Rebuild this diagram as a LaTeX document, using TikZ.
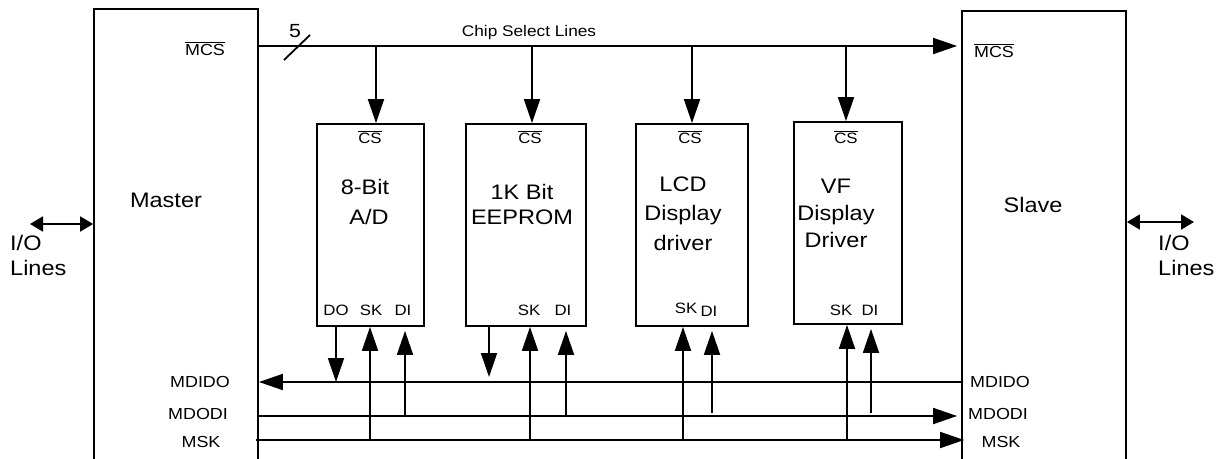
\documentclass[tikz,border=0pt]{standalone}
\usepackage{fontspec}
\setmainfont{Liberation Sans}[FakeStretch=1.12]
\usetikzlibrary{arrows.meta}
\newcommand{\ovl}[1]{$\overline{\mbox{#1}}$}

\begin{document}
\begin{tikzpicture}[x=1pt,y=-1pt,line cap=butt,
    wire/.style={line width=1.8pt},
    sig/.style={wire,-{Triangle[length=24pt,width=16pt]}},
    io/.style={wire,{Triangle[length=13pt,width=15pt]}-{Triangle[length=13pt,width=15pt]}},
    blk/.style={draw,line width=1.8pt,inner sep=0pt},
    pin/.style={font=\fontsize{15}{18}\selectfont,anchor=base,inner sep=0pt},
    bus/.style={font=\fontsize{16}{19}\selectfont,anchor=base,inner sep=0pt},
    big/.style={font=\fontsize{21}{29.5}\selectfont,align=center,anchor=base,inner sep=0pt}]
  \useasboundingbox (0,0) rectangle (1222,458);
  \clip (0,0) rectangle (1222,458);
  % master and slave run off the bottom edge
  \node[blk,minimum width=164pt,minimum height=480pt,anchor=north] (master) at (176,8) {};
  \node[blk,minimum width=164pt,minimum height=480pt,anchor=north] (slave) at (1044,10) {};
  \node[blk,minimum width=107pt,minimum height=202pt] (ad) at (370.5,225) {};
  \node[blk,minimum width=120pt,minimum height=202pt] (eep) at (526,225) {};
  \node[blk,minimum width=112pt,minimum height=202pt] (lcd) at (692,225) {};
  \node[blk,minimum width=108pt,minimum height=202pt] (vf) at (848,223) {};

  % base anchor sits on the last line
  \node[big] (mastertxt) at (166,207) {Master};
  \node[big] (slavetxt) at (1033,212) {Slave};
  \node[big] (adtxt) at (365,224) {8-Bit\\\hspace*{8pt}A/D};
  \node[big,font=\fontsize{21}{25}\selectfont] (eeptxt) at (522,224) {1K Bit\\EEPROM};
  \node[big] (lcdtxt) at (683,250) {LCD\\Display\\driver};
  \node[big,font=\fontsize{21}{27}\selectfont] (vftxt) at (836,247) {VF\\Display\\Driver};

  % bus rails
  \coordinate (mcs) at (0,46);
  \coordinate (mdido) at (0,382);
  \coordinate (mdodi) at (0,416);
  \coordinate (msk) at (0,440);

  \draw[sig,shorten >=4pt] (master.east |- mcs) -- (slave.west |- mcs);
  \draw[wire] (284,60) -- (310,35);
  \node[big,font=\fontsize{19}{22}\selectfont] (width) at (295,37) {5};
  \node[bus,font=\fontsize{15.4}{18}\selectfont] (csl) at (529,36) {Chip Select Lines};
  \node[bus] (mmcs) at (205,55) {\ovl{MCS}};
  \node[bus] (smcs) at (994,57) {\ovl{MCS}};
  \foreach \c/\x/\t in {ad/376/370,eep/532/530,lcd/692/690,vf/846/846} {
    \draw[sig] (\x,0 |- mcs) -- (\x,0 |- \c.north);
    \node[pin] (\c cs) at (\t,143) {\ovl{CS}};
  }

  \draw[sig] (slave.west |- mdido) -- (master.east |- mdido);
  \draw[sig,shorten >=4pt] (master.east |- mdodi) -- (slave.west |- mdodi);
  \draw[sig,shorten <=-3pt,shorten >=-3pt] (master.east |- msk) -- (slave.west |- msk);

  % chip pins
  \draw[sig] (336,0 |- ad.south) -- (336,0 |- mdido);
  \draw[sig,shorten >=5pt] (489,0 |- eep.south) -- (489,0 |- mdido);
  \foreach \c/\x in {ad/370,eep/530,lcd/683,vf/847}
    \draw[sig] (\x,0 |- msk) -- (\x,0 |- \c.south);
  \foreach \c/\x in {ad/405,eep/566}
    \draw[sig,shorten >=4pt] (\x,0 |- mdodi) -- (\x,0 |- \c.south);
  \foreach \c/\x in {lcd/712,vf/871}
    \draw[sig,shorten <=3pt,shorten >=4pt] (\x,0 |- mdodi) -- (\x,0 |- \c.south);

  \node[pin] (addo) at (336,315) {DO};
  \node[pin] (adsk) at (371,315) {SK};
  \node[pin] (addi) at (403,315) {DI};
  \node[pin] (eepsk) at (529,315) {SK};
  \node[pin] (eepdi) at (563,315) {DI};
  \node[pin] (lcdsk) at (686,313) {SK};
  \node[pin] (lcddi) at (709,316) {DI};
  \node[pin] (vfsk) at (841,315) {SK};
  \node[pin] (vfdi) at (870,315) {DI};

  \node[bus] (mdidoM) at (200,387) {MDIDO};
  \node[bus] (mdodiM) at (198,419) {MDODI};
  \node[bus] (mskM) at (201,447) {MSK};
  \node[bus] (mdidoS) at (1000,387) {MDIDO};
  \node[bus] (mdodiS) at (998,419) {MDODI};
  \node[bus] (mskS) at (1001,447) {MSK};

  % I/O lines
  \coordinate (ioL) at (30,224);
  \coordinate (ioR) at (1194,222);
  \draw[io] (ioL) -- (master.west |- ioL);
  \draw[io] (slave.east |- ioR) -- (ioR);
  \node[big,font=\fontsize{21}{25}\selectfont,align=left,anchor=base west] (iotxtL) at (10,275) {I/O\\Lines};
  \node[big,font=\fontsize{21}{25}\selectfont,align=left,anchor=base west] (iotxtR) at (1158,275) {I/O\\Lines};
\end{tikzpicture}
\end{document}
